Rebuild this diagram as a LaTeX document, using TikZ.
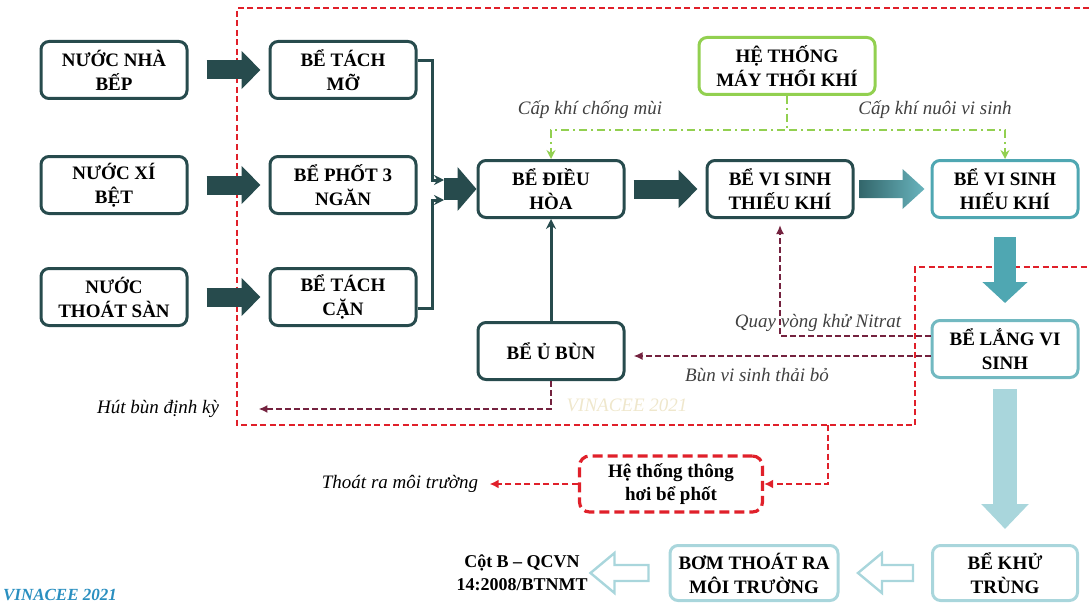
\documentclass[tikz,border=0pt]{standalone}
\usepackage{fontspec}
\setmainfont{Liberation Serif}
\usetikzlibrary{arrows.meta, shapes}

\definecolor{darkteal}{HTML}{274B4D}
\definecolor{midteal}{HTML}{4FA7B2}
\definecolor{paleteal}{HTML}{A9D6DC}
\definecolor{blowgreen}{HTML}{92D050}
\definecolor{ventred}{HTML}{E0202A}
\definecolor{sludge}{HTML}{74223F}
\definecolor{vinablue}{HTML}{2A8FC0}
\definecolor{vinafaint}{HTML}{EFE7CC}

\begin{document}
\begin{tikzpicture}[x=1pt, y=1pt, node distance=229pt]
\tikzstyle{block} = [rectangle, draw=darkteal, line width=3pt, rounded corners=8pt,
    minimum width=146pt, minimum height=57pt, align=center, inner sep=2pt,
    font=\fontsize{19}{24}\selectfont\bfseries]
\tikzstyle{tealblock} = [block, draw=midteal]
\tikzstyle{paleblock} = [block, draw=paleteal, minimum height=55pt]
\tikzstyle{ventbox} = [block, draw=ventred, line width=3.2pt, dash pattern=on 10pt off 5pt,
    rounded corners=10pt, minimum width=183pt, minimum height=56pt,
    font=\fontsize{19}{23}\selectfont\bfseries]
\tikzstyle{note} = [font=\fontsize{19}{22}\selectfont\itshape, text=black!75]
\tikzstyle{fatarrow} = [draw=darkteal, line width=19pt, -{Triangle[length=19pt, width=37pt]}]
\tikzstyle{line} = [draw=darkteal, line width=3pt, -{Stealth[length=10pt, width=10pt]}]
\tikzstyle{air} = [draw=blowgreen, line width=2.2pt, dash pattern=on 8pt off 4pt on 2pt off 4pt,
    -{Stealth[length=9pt, width=9pt]}]
\tikzstyle{sludgeline} = [draw=sludge, line width=2.2pt, dash pattern=on 6pt off 3pt,
    -{Latex[length=9pt, width=8pt]}]
\tikzstyle{ventline} = [draw=ventred, line width=2.2pt, dash pattern=on 6pt off 3.5pt]
\tikzstyle{hollow} = [draw=paleteal, line width=2.4pt, fill=white, line join=miter]

\useasboundingbox (0,0) rectangle (1089,-607);

% inflows
 \node [block] at (114,-70) (nhabep) {NƯỚC NHÀ\\BẾP};
 \node [block, below of=nhabep, node distance=115pt] (xibet) {NƯỚC XÍ\\BỆT};
 \node [block, below of=xibet, node distance=112pt] (thoatsan) {NƯỚC\\THOÁT SÀN};

 \node [block, right of=nhabep] (tachmo) {BỂ TÁCH\\MỠ};
 \node [block, right of=xibet] (phot) {BỂ PHỐT 3\\NGĂN};
 \node [block, right of=thoatsan] (tachcan) {BỂ TÁCH\\CẶN};

% main line
 \node [block] at (551,-189) (dieuhoa) {BỂ ĐIỀU\\HÒA};
 \node [block, right of=dieuhoa] (thieukhi) {BỂ VI SINH\\THIẾU KHÍ};
 \node [tealblock, right of=thieukhi, node distance=225pt] (hieukhi) {BỂ VI SINH\\HIẾU KHÍ};
 \node [block, draw=blowgreen, minimum width=176pt] at (787,-66) (blower) {HỆ THỐNG\\MÁY THỔI KHÍ};

 \node [block, below of=dieuhoa, node distance=162pt] (ubun) {BỂ Ủ BÙN};
 \node [block, draw=midteal!80, below of=hieukhi, node distance=160pt] (lang) {BỂ LẮNG VI\\SINH};
 \node [paleblock, below of=lang, node distance=224pt, minimum width=145pt] (khutrung) {BỂ KHỬ\\TRÙNG};
 \node [paleblock, left of=khutrung, node distance=251pt, minimum width=168pt] (bom) {BƠM THOÁT RA\\MÔI TRƯỜNG};
 \node [left of=bom, node distance=232pt, align=center, font=\fontsize{18}{23}\selectfont\bfseries] (cotb) {Cột B -- QCVN\\14:2008/BTNMT};

 \node [ventbox] at (671,-484) (thonghoi) {Hệ thống thông\\hơi bể phốt};

% labels
 \node [note] at (590,-110) (capchong) {Cấp khí chống mùi};
 \node [note] at (935,-110) (capnuoi) {Cấp khí nuôi vi sinh};
 \node [note] at (818,-323) (nitrat) {Quay vòng khử Nitrat};
 \node [note] at (757,-375) (bunthai) {Bùn vi sinh thải bỏ};
 \node [note, text=black] at (158,-409) (hutbun) {Hút bùn định kỳ};
 \node [note, text=black, left of=thonghoi, node distance=271pt] (thoatra) {Thoát ra môi trường};
 \node [font=\fontsize{19}{22}\selectfont\itshape, text=vinafaint] at (627,-405) (wmark) {VINACEE 2021};
 \node [font=\fontsize{17}{20}\selectfont\bfseries\itshape, text=vinablue] at (60,-595) (vinacee) {VINACEE 2021};

% red boundary
 \draw [ventline] (1089,-8) -- (237,-8) -- (237,-425) -- (915,-425) -- (915,-267) -- (1089,-267);
 \coordinate (ventout) at (828,-425);
 \path [ventline, -{Latex[length=9pt, width=9pt]}] (ventout) |- (thonghoi.east);
 \path [ventline, -{Latex[length=9pt, width=9pt]}, shorten >=8pt] (thonghoi.west) -- (thoatra.east);

% water flow
 \path [fatarrow, shorten <=18pt, shorten >=8pt] (nhabep) -- (tachmo);
 \path [fatarrow, shorten <=18pt, shorten >=8pt] (xibet) -- (phot);
 \path [fatarrow, shorten <=18pt, shorten >=8pt] (thoatsan) -- (tachcan);

 \coordinate [left of=dieuhoa, node distance=107pt] (merge);
 \path [line] ([yshift=9pt]tachmo.east) -| ([xshift=-12pt, yshift=9pt]merge) -- ([yshift=9pt]merge);
 \path [line] ([yshift=-11pt]tachcan.east) -| ([xshift=-12pt, yshift=-11pt]merge) -- ([yshift=-11pt]merge);
 \path [fatarrow, line width=22pt, -{Triangle[length=19pt, width=43pt]}] (merge) -- (dieuhoa.west);

 \path [fatarrow, shorten <=8pt, shorten >=8pt] (dieuhoa) -- (thieukhi);
 \shade [left color=darkteal!70!midteal, right color=midteal!85]
   ([xshift=5pt, yshift=9pt]thieukhi.east) -- ++(43,0) -- ++(0,11) -- ++(22,-20)
   -- ++(-22,-20) -- ++(0,11) -- ++(-43,0) -- cycle;

 \path [fatarrow, draw=midteal, line width=22pt, -{Triangle[length=21pt, width=44pt]},
   shorten <=18pt, shorten >=16pt] (hieukhi) -- (lang);
 \path [fatarrow, draw=paleteal, line width=24pt, -{Triangle[length=25pt, width=46pt]},
   shorten <=10pt, shorten >=15pt] (lang) -- (khutrung);

 \path [line] (ubun) -- (dieuhoa);

% outflow
 \draw [hollow] ([xshift=-18pt, yshift=8pt]khutrung.west) -- ++(-31,0) -- ++(0,12) -- ++(-24,-20)
   -- ++(24,-20) -- ++(0,12) -- ++(31,0) -- cycle;
 \draw [hollow] ([xshift=-20pt, yshift=8pt]bom.west) -- ++(-34,0) -- ++(0,12) -- ++(-24,-20)
   -- ++(24,-20) -- ++(0,12) -- ++(34,0) -- cycle;

% air supply
 \path [air] (blower.south) -- ++(0,-34) -| (dieuhoa.north);
 \path [air] (blower.south) -- ++(0,-34) -| (hieukhi.north);

% sludge and recycle
 \path [sludgeline, shorten >=6pt] ([yshift=13pt]lang.west) -| (thieukhi.south);
 \path [sludgeline, shorten >=8pt] ([yshift=-7pt]lang.west) -- ([yshift=-7pt]lang.west -| ubun.east);
 \path [sludgeline] (ubun.south) |- ([xshift=36pt]hutbun.east);
\end{tikzpicture}
\end{document}
